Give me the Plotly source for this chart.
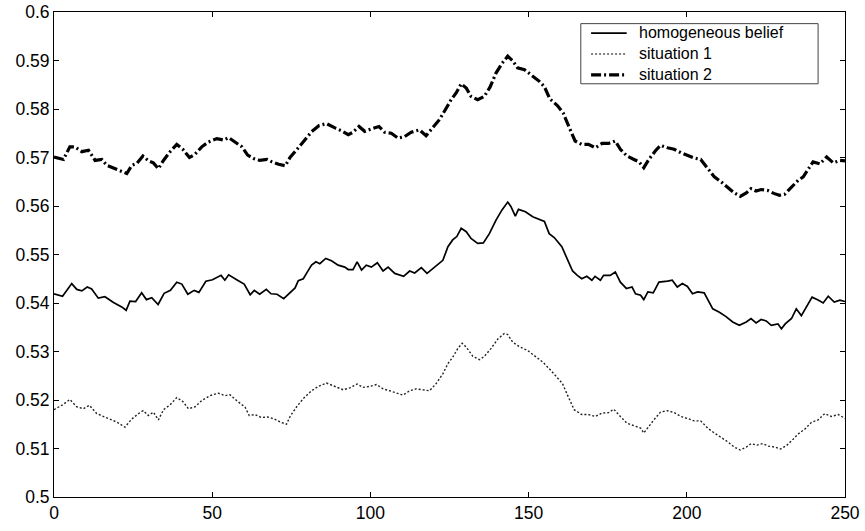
import plotly.graph_objects as go

# --- homogeneous belief ---
x_hom = [0, 2.7, 5.6, 7.2, 8.8, 10.5, 11.9, 14, 16.1, 18.8, 21.4, 22.8, 24, 25.8, 27.7, 29.2,
         30.9, 32.9, 34.8, 36.8, 38.8, 40.4, 42.3, 44.3, 45.8, 48, 50.1, 52.8, 54, 55.2, 58,
         60.1, 62, 63.3, 65, 67.1, 68.6, 70.5, 72.6, 74.6, 76.2, 77.2, 78.8, 79.8, 81.4, 82.8,
         84, 85.9, 87.7, 89.8, 91.9, 93, 94.5, 95.8, 97.2, 98.7, 100.3, 102.2, 104, 105.6,
         107.7, 110.5, 112.4, 114, 116.1, 117.9, 120.3, 122.9, 124.5, 126, 127.3, 128.7,
         130.3, 131.8, 133.9, 135.7, 137.6, 139.7, 141.6, 143.4, 144.4, 145.8, 146.8, 149,
         151.3, 153.6, 155, 156.5, 158.1, 160.5, 162.3, 163.9, 165.4, 166.8, 168.4, 170, 171,
         172.7, 173.7, 175.8, 177.4, 179, 180.9, 182.7, 183.8, 185.4, 186.4, 187.7, 189.4,
         191.2, 193.9, 195.4, 197, 198.6, 200.2, 201.8, 203.4, 205.5, 208.2, 210.3, 212.4,
         214.5, 216.6, 218.8, 220.3, 221.9, 223.5, 225.1, 226.7, 228.8, 229.9, 231.1, 233.1,
         234.6, 236.2, 237.8, 239.6, 241.5, 243.1, 244.7, 246.6, 248.4, 250]
y_hom = [0.5419, 0.5414, 0.5440, 0.5428, 0.5425, 0.5433, 0.5429, 0.5410, 0.5413, 0.5401, 0.5392,
         0.5385, 0.5404, 0.5403, 0.5421, 0.5407, 0.5411, 0.5397, 0.5420, 0.5426, 0.5443, 0.5439,
         0.5418, 0.5426, 0.5422, 0.5445, 0.5448, 0.5457, 0.5447, 0.5458, 0.5447, 0.5439, 0.5417,
         0.5426, 0.5418, 0.5428, 0.5419, 0.5418, 0.5409, 0.5421, 0.5431, 0.5446, 0.5450, 0.5461,
         0.5478, 0.5485, 0.5481, 0.5492, 0.5487, 0.5478, 0.5474, 0.5469, 0.5469, 0.5485, 0.5468,
         0.5478, 0.5474, 0.5483, 0.5466, 0.5474, 0.5461, 0.5455, 0.5466, 0.5462, 0.5473, 0.5461,
         0.5474, 0.5488, 0.5516, 0.5530, 0.5537, 0.5554, 0.5547, 0.5533, 0.5523, 0.5524, 0.5543,
         0.5571, 0.5592, 0.5608, 0.5599, 0.5579, 0.5593, 0.5588, 0.5578, 0.5571, 0.5568, 0.5543,
         0.5535, 0.5516, 0.5488, 0.5466, 0.5457, 0.5450, 0.5455, 0.5447, 0.5455, 0.5447, 0.5457,
         0.5457, 0.5464, 0.5443, 0.5430, 0.5433, 0.5419, 0.5416, 0.5407, 0.5423, 0.5421, 0.5443,
         0.5445, 0.5447, 0.5433, 0.5440, 0.5434, 0.5419, 0.5423, 0.5421, 0.5388, 0.5381, 0.5372,
         0.5361, 0.5354, 0.5361, 0.5368, 0.5359, 0.5366, 0.5363, 0.5354, 0.5357, 0.5347, 0.5357,
         0.5368, 0.5388, 0.5374, 0.5392, 0.5412, 0.5406, 0.5400, 0.5414, 0.5402, 0.5406, 0.5403]

# --- situation 1 ---
x_s1 = [0, 2.7, 5, 7.2, 9.3, 11.2, 13.5, 15.6, 17.7, 20, 22.4, 24.6, 26.7, 28.2, 29.8, 31.4, 33,
        34.6, 36.7, 38.8, 40.7, 42.5, 44.6, 46.7, 49.3, 51.9, 54.1, 55.6, 57.7, 60.4, 61.7, 63.5,
        65.5, 67.5, 69.6, 71.7, 73.5, 74.6, 76.7, 78.8, 81.4, 83.5, 86.1, 88.8, 91.4, 93.5, 95.8,
        97.7, 99.8, 101.9, 104, 106.1, 108.2, 110.3, 112.4, 114.5, 116.6, 118.7, 120.8, 122.9,
        124.5, 126, 127.6, 129, 130.3, 132.4, 134.5, 136, 138.1, 140.3, 142.3, 143.4, 145, 147.1,
        149.7, 152.3, 154.5, 156.6, 158.7, 160.7, 162.3, 164.4, 166.8, 168.9, 171.1, 173.2,
        175.3, 176.9, 179, 181.1, 183.3, 185.4, 186.4, 188, 189.6, 191.7, 193.9, 196, 198.1,
        200.2, 202.3, 204.4, 206.6, 208.7, 210.8, 212.9, 215, 216.9, 218.8, 220.3, 222.2, 224,
        225.8, 227.8, 229.7, 231.5, 233.6, 235.2, 237.3, 239.4, 241.5, 243.6, 245.7, 247.9, 250]
y_s1 = [0.5180, 0.5190, 0.5201, 0.5186, 0.5182, 0.5189, 0.5172, 0.5166, 0.5161, 0.5154, 0.5144,
        0.5161, 0.5172, 0.5178, 0.5168, 0.5175, 0.5159, 0.5180, 0.5190, 0.5205, 0.5197, 0.5182,
        0.5186, 0.5199, 0.5209, 0.5214, 0.5209, 0.5211, 0.5199, 0.5185, 0.5168, 0.5170, 0.5164,
        0.5165, 0.5161, 0.5154, 0.5150, 0.5166, 0.5186, 0.5203, 0.5219, 0.5228, 0.5235, 0.5227,
        0.5221, 0.5225, 0.5233, 0.5226, 0.5228, 0.5232, 0.5223, 0.5219, 0.5214, 0.5210, 0.5219,
        0.5223, 0.5221, 0.5219, 0.5234, 0.5254, 0.5275, 0.5288, 0.5306, 0.5317, 0.5309, 0.5290,
        0.5283, 0.5290, 0.5306, 0.5326, 0.5337, 0.5335, 0.5319, 0.5310, 0.5302, 0.5288, 0.5278,
        0.5264, 0.5248, 0.5234, 0.5210, 0.5180, 0.5170, 0.5170, 0.5166, 0.5173, 0.5174, 0.5181,
        0.5166, 0.5152, 0.5147, 0.5142, 0.5132, 0.5146, 0.5159, 0.5175, 0.5178, 0.5174, 0.5166,
        0.5162, 0.5157, 0.5157, 0.5142, 0.5132, 0.5123, 0.5114, 0.5103, 0.5097, 0.5103, 0.5110,
        0.5107, 0.5110, 0.5105, 0.5103, 0.5099, 0.5106, 0.5119, 0.5130, 0.5140, 0.5154, 0.5159,
        0.5172, 0.5166, 0.5170, 0.5162]

# --- situation 2 ---
x_s2 = [0, 3, 5, 6.6, 8.8, 10.9, 13, 15.1, 16.7, 19.3, 21.4, 23, 24.6, 26.2, 28.1, 29.9, 31.4, 33,
        34.6, 36.7, 38.8, 40.7, 42.8, 44.6, 46.7, 48.8, 51.5, 53.6, 55.2, 57.3, 59.4, 61.2, 63.1,
        65, 67.3, 68.9, 71, 73.1, 74.6, 76.7, 78.8, 81.4, 83.8, 86.1, 88.8, 90.9, 93, 94.5, 96.4,
        98.2, 100.3, 102.7, 104.5, 106.6, 108.7, 110.8, 112.9, 115.5, 117.6, 119.7, 121.8, 124,
        125.5, 127.1, 128.7, 130.3, 131.8, 133.9, 136, 137.8, 139.7, 141.6, 143.4, 145, 146.5,
        148.7, 151.3, 153.4, 155, 156.7, 159.1, 160.9, 162.7, 164.7, 166.8, 168.9, 171.1, 173.2,
        175.3, 177.4, 179, 181.1, 183.3, 184.9, 186.4, 188, 190.1, 191.7, 193.9, 196, 198.1,
        200.2, 202.3, 204.4, 206.6, 208.7, 210.8, 212.9, 215, 216.9, 218.8, 220.3, 221.9, 223.5,
        225.6, 227.5, 229.3, 230.9, 233.1, 235.2, 236.8, 238.3, 239.9, 242.1, 244.2, 246.3,
        248.4, 250]
y_s2 = [0.5701, 0.5696, 0.5722, 0.5722, 0.5712, 0.5715, 0.5694, 0.5696, 0.5684, 0.5677, 0.5670,
        0.5667, 0.5684, 0.5688, 0.5703, 0.5693, 0.5689, 0.5677, 0.5694, 0.5712, 0.5727, 0.5717,
        0.5700, 0.5707, 0.5722, 0.5732, 0.5739, 0.5736, 0.5741, 0.5732, 0.5722, 0.5705, 0.5698,
        0.5694, 0.5696, 0.5691, 0.5686, 0.5683, 0.5700, 0.5716, 0.5732, 0.5753, 0.5766, 0.5770,
        0.5761, 0.5755, 0.5747, 0.5752, 0.5764, 0.5754, 0.5759, 0.5764, 0.5752, 0.5750, 0.5740,
        0.5743, 0.5752, 0.5757, 0.5745, 0.5761, 0.5778, 0.5802, 0.5819, 0.5833, 0.5852, 0.5843,
        0.5826, 0.5819, 0.5826, 0.5845, 0.5874, 0.5894, 0.5909, 0.5899, 0.5885, 0.5881, 0.5868,
        0.5857, 0.5846, 0.5821, 0.5807, 0.5792, 0.5764, 0.5734, 0.5727, 0.5727, 0.5720, 0.5729,
        0.5729, 0.5734, 0.5717, 0.5703, 0.5696, 0.5691, 0.5679, 0.5696, 0.5714, 0.5725, 0.5720,
        0.5717, 0.5710, 0.5704, 0.5699, 0.5696, 0.5677, 0.5660, 0.5650, 0.5639, 0.5627, 0.5620,
        0.5627, 0.5636, 0.5631, 0.5634, 0.5632, 0.5626, 0.5622, 0.5624, 0.5639, 0.5653, 0.5660,
        0.5674, 0.5691, 0.5687, 0.5701, 0.5689, 0.5694, 0.5693]

x_ticks = [0, 50, 100, 150, 200, 250]
y_ticks = [0.5, 0.51, 0.52, 0.53, 0.54, 0.55, 0.56, 0.57, 0.58, 0.59, 0.6]
y_tick_text = ["0.5", "0.51", "0.52", "0.53", "0.54", "0.55", "0.56", "0.57", "0.58", "0.59", "0.6"]

series_names = ["homogeneous belief", "situation 1", "situation 2"]

FONT = "Liberation Sans, Arial, Helvetica, sans-serif"
LEGEND_FONT_SIZE = 16

styles = [
    dict(color="black", width=1.7),
    dict(color="#222", width=1.4, dash="2px,2px"),
    dict(color="black", width=3.2, dash="10px,3px,2px,3px"),
]

fig = go.Figure()
for xs, ys, name, style in zip([x_hom, x_s1, x_s2], [y_hom, y_s1, y_s2], series_names, styles):
    fig.add_trace(go.Scatter(x=xs, y=ys, mode="lines", name=name, line=style,
                             showlegend=False))

# Boxed legend in the upper right corner, laid out in paper coordinates;
# the three labels share one text block so the rows follow its line spacing.
box_x0, box_x1, box_y0, box_y1 = 0.666, 0.966, 0.852, 0.976
sample_x0, sample_x1, label_x = 0.679, 0.724, 0.738
row_y = [0.9565, 0.9135, 0.8705]

shapes = [dict(type="rect", xref="paper", yref="paper", x0=box_x0, x1=box_x1,
               y0=box_y0, y1=box_y1, line=dict(color="#444", width=1),
               fillcolor="white", layer="above")]
for style, yy in zip(styles, row_y):
    sample_style = dict(style)
    if sample_style.get("dash") == "2px,2px":
        sample_style["color"] = "#555"
    shapes.append(dict(type="line", xref="paper", yref="paper", x0=sample_x0, x1=sample_x1,
                       y0=yy, y1=yy, line=sample_style, layer="above"))

annotations = [dict(xref="paper", yref="paper", x=label_x, y=row_y[1],
                    text="<br>".join(series_names), align="left",
                    showarrow=False, xanchor="left", yanchor="middle", borderpad=0,
                    font=dict(family=FONT, size=LEGEND_FONT_SIZE, color="black"))]

axis_common = dict(showgrid=False, zeroline=False, showline=True, linecolor="black",
                   linewidth=1, mirror="allticks", ticks="inside", ticklen=5,
                   tickcolor="black", automargin=False,
                   tickfont=dict(family=FONT, size=17.5, color="black"))

fig.update_xaxes(range=[0, 250], tickvals=x_ticks, **axis_common)
fig.update_yaxes(range=[0.5, 0.6], tickvals=y_ticks, ticktext=y_tick_text, **axis_common)

fig.update_layout(
    width=865, height=531,
    margin=dict(l=54, r=20, t=12, b=34),
    paper_bgcolor="white", plot_bgcolor="white",
    font=dict(family=FONT, color="black"),
    showlegend=False,
    shapes=shapes,
    annotations=annotations,
)

fig.write_html("out.html")
